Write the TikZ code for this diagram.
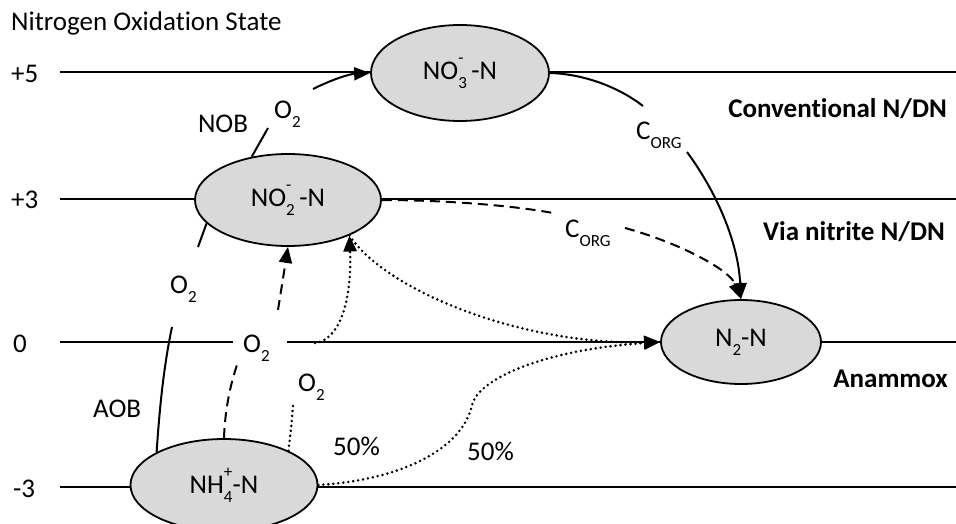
\documentclass[tikz,border=0pt]{standalone}
\usepackage{fontspec}
\setmainfont{Carlito}[Ligatures=NoCommon]
\usetikzlibrary{arrows.meta,shapes.geometric}
\definecolor{blobgray}{HTML}{D9D9D9}
\newcommand\lowsub[1]{\raisebox{-9pt}{\fontsize{17}{17}\selectfont #1}}
\newcommand\highsup[1]{\raisebox{16pt}{\fontsize{17}{17}\selectfont #1}}
\newcommand\subsup[2]{\makebox[0pt][l]{\highsup{#2}}\lowsub{#1}}
\begin{document}
\begin{tikzpicture}[x=1pt,y=-1pt,
  every node/.style={font=\fontsize{27}{31}\selectfont, inner sep=0pt},
  lvl/.style={line width=2pt},
  lvlthin/.style={line width=1.3pt},
  blob/.style={ellipse, draw, line width=1.8pt, fill=blobgray},
  conn/.style={line width=2pt},
  tip/.style={-{Triangle[length=16pt,width=13pt]}},
  dashedconn/.style={conn, dash pattern=on 10pt off 6pt},
  dottedconn/.style={line width=2.8pt, line cap=round, dash pattern=on 0pt off 5pt},
  lbl/.style={anchor=base west},
  boldlbl/.style={anchor=base east, font=\fontsize{27}{31}\selectfont\bfseries},
]
\fill[white] (0,0) rectangle (956,524);
\useasboundingbox (0,0) rectangle (956,524);

% oxidation state levels
\draw[lvl] (60,72) -- (956,72);
\draw[lvl] (60,199) -- (956,199);
\draw[lvlthin] (60,342) -- (233,342);
\draw[lvlthin] (287,342) -- (956,342);
\draw[lvl] (60,487) -- (956,487);

% species
\node[blob, minimum width=178pt, minimum height=96pt] (no3) at (460,73) {NO\subsup{3}{-}\,-N};
\node[blob, minimum width=186pt, minimum height=92pt] (no2) at (288,200) {NO\subsup{2}{-}\,-N};
\node[blob, minimum width=160pt, minimum height=84pt] (n2) at (741,342) {N\lowsub{2}-N};
\node[blob, minimum width=187pt, minimum height=92pt] (nh4) at (224,485) {NH\subsup{4}{+}-N};

% free ends of broken connectors
\coordinate (aobA) at (172,327);
\coordinate (aobB) at (198,247);
\coordinate (nobA) at (268,128);
\coordinate (nobB) at (313,89);
\coordinate (dA) at (238,362);
\coordinate (dB) at (278,310);
\coordinate (tA) at (293,405);
\coordinate (tB) at (315,343);
\coordinate (cA) at (553,213);
\coordinate (cB) at (625,228);
\coordinate (gA) at (643,106);
\coordinate (gB) at (687,152);

% AOB
\draw[conn] (nh4.154) .. controls (160,400) and (165,360) .. (aobA);
\draw[conn] (aobB) -- (no2.196);
% NOB
\draw[conn] (no2.130) -- (nobA);
\draw[conn,tip] (nobB) .. controls (333,79) and (350,74) .. (no3.west);
% partial nitritation (dashed)
\draw[dashedconn] (nh4.north) .. controls (225,410) and (230,385) .. (dA);
\draw[dashedconn,tip] (dB) -- (no2.south);
% anammox (dotted)
\draw[dottedconn] (nh4.28) .. controls (291,430) and (292,420) .. (tA);
\draw[dottedconn,tip] (tB) .. controls (340,340) and (352,300) .. (no2.-30);
\draw[dottedconn,tip] (no2.-30) .. controls (385,290) and (520,345) .. (n2.west);
\draw[dottedconn,tip] (nh4.east) .. controls (400,480) and (462,450) .. (472,405)
   .. controls (478,380) and (540,350) .. (n2.west);
% via nitrite denitrification (dashed)
\draw[dashedconn] (no2.east) .. controls (440,200) and (510,205) .. (cA);
\draw[dashedconn,tip] (cB) .. controls (680,243) and (730,270) .. (n2.north);
% conventional denitrification
\draw[conn] (no3.east) .. controls (585,74) and (620,88) .. (gA);
\draw[conn,tip] (gB) .. controls (715,190) and (738,240) .. (n2.north);

% labels
\node[lbl] (title) at (11,31) {Nitrogen Oxidation State};
\node[lbl] (s5) at (11,83) {+5};
\node[lbl] (s3) at (11,208) {+3};
\node[lbl] (s0) at (13,352) {0};
\node[lbl] (sm3) at (13,497) {-3};
\node[anchor=base] (nob) at (223,133) {NOB};
\node[lbl] (o2a) at (274,119) {O\lowsub{2}};
\node[lbl] (o2b) at (170,293) {O\lowsub{2}};
\node[lbl] (aob) at (93,417) {AOB};
\node[lbl] (o2c) at (243,352) {O\lowsub{2}};
\node[lbl] (o2d) at (298,391) {O\lowsub{2}};
\node[lbl] (p1) at (333,455) {50\%};
\node[lbl] (p2) at (467,460) {50\%};
\node[lbl] (corg1) at (636,140) {C\lowsub{ORG}};
\node[lbl] (corg2) at (565,237) {C\lowsub{ORG}};
\node[boldlbl] (conv) at (947,118) {Conventional N/DN};
\node[boldlbl] (vian) at (945,240) {Via nitrite N/DN};
\node[boldlbl] (anam) at (948,387) {Anammox};
\end{tikzpicture}
\end{document}
